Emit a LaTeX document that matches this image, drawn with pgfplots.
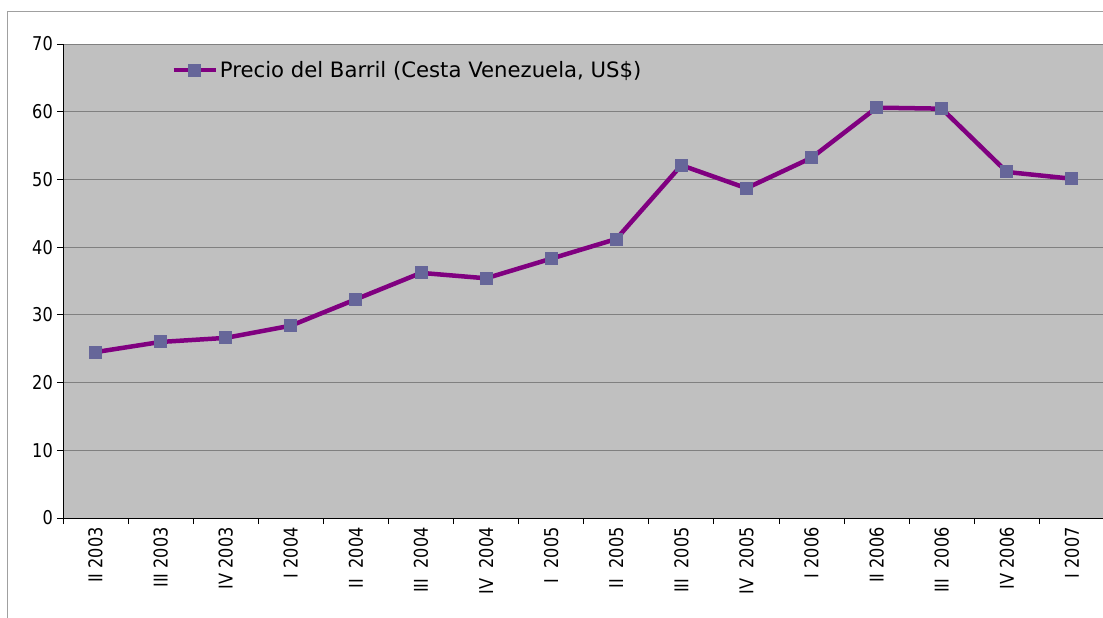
\documentclass[border=0pt]{standalone}
\usepackage{pgfplots}
\pgfplotsset{compat=1.18}
\usepackage{fontspec}
\setmainfont{DejaVu Sans}
\newfontfamily\tickfont[FakeStretch=0.85]{DejaVu Sans}
\definecolor{bggray}{HTML}{C0C0C0}
\definecolor{gridgray}{HTML}{808080}
\definecolor{linepurple}{HTML}{800080}
\definecolor{markblue}{HTML}{666699}
\definecolor{framegray}{HTML}{A0A0A0}
\begin{document}
\begin{tikzpicture}
\path[use as bounding box] (0,0) rectangle (1103pt,-618pt);
\draw[framegray, line width=1pt] (7pt,-618pt) -- (7pt,-12pt) -- (1103pt,-12pt);
\begin{axis}[
  at={(63pt,-518pt)}, anchor=south west,
  scale only axis, width=1041.5pt, height=474pt,
  xmin=-0.5, xmax=15.5, ymin=0, ymax=70,
  ytick={0,10,...,70},
  xtick={0,...,15},
  xticklabels={II 2003, III 2003, IV 2003, I 2004, II\ \ 2004, III\ \ 2004, IV\ \ 2004, I\ \ 2005, II\ \ 2005, III\ \ 2005, IV\ \ 2005, I 2006, II 2006, III\ \ 2006, IV 2006, I 2007},
  minor xtick={-0.5,0.5,...,15.5},
  major x tick style={draw=none},
  minor x tick style={black, line width=1pt},
  ytick style={black, line width=1pt},
  tick align=outside,
  major tick length=6pt, minor tick length=6pt,
  axis x line*=bottom, axis y line*=left,
  axis line style={black, line width=1pt, -},
  axis background/.style={fill=bggray},
  ymajorgrids, grid style={gridgray, line width=1pt},
  x tick label style={rotate=90, anchor=east, inner sep=3pt, font=\tickfont\fontsize{19}{21}\selectfont},
  y tick label style={inner sep=4pt, font=\tickfont\fontsize{19}{21}\selectfont},
  /pgf/number format/assume math mode=true,
  legend style={at={(0.101,0.945)}, anchor=west, draw=none, fill=none,
    font=\fontsize{21.2}{24}\selectfont},
  legend cell align=left,
  legend image code/.code={\draw[#1, mark repeat=2, mark phase=2] plot coordinates {(0pt,0pt) (21pt,0pt) (42pt,0pt)};},
]
\addplot[linepurple, line width=4.5pt, mark=square*, mark size=6pt,
  mark options={fill=markblue, draw=markblue, line width=0pt}]
  table[x=x, y=y] {
x y
0 24.5
1 26.0
2 26.6
3 28.4
4 32.3
5 36.2
6 35.4
7 38.3
8 41.2
9 52.1
10 48.7
11 53.2
12 60.6
13 60.45
14 51.1
15 50.1
};
\addlegendentry{Precio del Barril (Cesta Venezuela, US\$)}
\end{axis}
\end{tikzpicture}
\end{document}
